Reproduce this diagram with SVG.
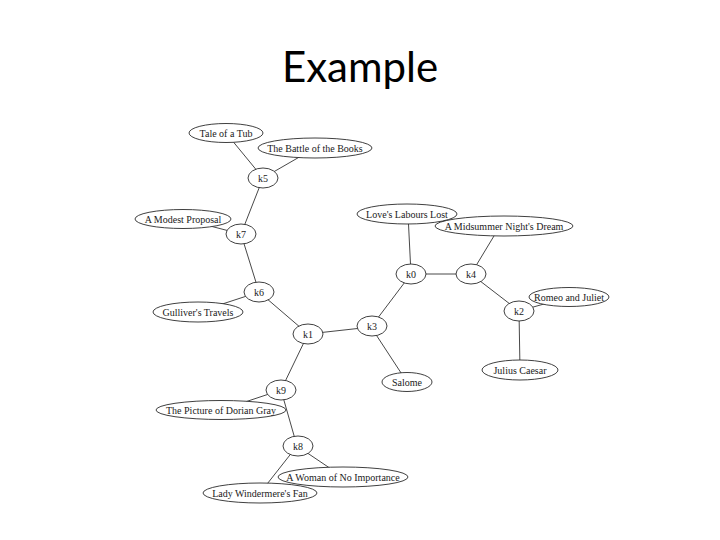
<svg xmlns="http://www.w3.org/2000/svg" width="720" height="540" viewBox="0 0 720 540">
<style>
.e{fill:#fff;stroke:#2a2a2a;stroke-width:0.9}
.f{fill:#fff;stroke:none}
.o{fill:none;stroke:#2a2a2a;stroke-width:0.9}
.t{font-family:"Liberation Serif","Times New Roman",serif;font-size:10px;fill:#1a1a1a;text-anchor:middle}
.c line{stroke:#333;stroke-width:0.9}
.title{font-family:"Lato","Liberation Sans",sans-serif;font-size:42px;fill:#000;text-anchor:middle}
</style>
<rect width="720" height="540" fill="#fff"/>
<text class="title" x="360" y="82">Example</text>
<g class="c" id="connectors">
<line x1="226" y1="133" x2="263" y2="178"/>
<line x1="315" y1="148" x2="263" y2="178"/>
<line x1="263" y1="178" x2="241" y2="234"/>
<line x1="183" y1="219" x2="241" y2="234"/>
<line x1="241" y1="234" x2="259" y2="292"/>
<line x1="259" y1="292" x2="198" y2="312"/>
<line x1="259" y1="292" x2="308" y2="334"/>
<line x1="308" y1="334" x2="371" y2="327"/>
<line x1="308" y1="334" x2="281" y2="390"/>
<line x1="371" y1="327" x2="411" y2="274"/>
<line x1="371" y1="327" x2="407" y2="382"/>
<line x1="411" y1="274" x2="408" y2="214"/>
<line x1="411" y1="274" x2="471" y2="274"/>
<line x1="471" y1="274" x2="500" y2="226"/>
<line x1="471" y1="274" x2="519" y2="311"/>
<line x1="519" y1="311" x2="569" y2="297"/>
<line x1="519" y1="311" x2="520" y2="370"/>
<line x1="281" y1="390" x2="221" y2="410"/>
<line x1="281" y1="390" x2="297" y2="446"/>
<line x1="297" y1="446" x2="343" y2="477"/>
<line x1="297" y1="446" x2="260" y2="493"/>
</g>
<g id="n-tale"><ellipse class="e" cx="226" cy="133" rx="37" ry="9.5"/><text class="t" x="226" y="136.5">Tale of a Tub</text></g>
<g id="n-battle"><ellipse class="e" cx="315" cy="148" rx="57" ry="10"/><text class="t" x="315" y="151.5">The Battle of the Books</text></g>
<g id="n-k5"><ellipse class="e" cx="263" cy="178" rx="15" ry="10"/><text class="t" x="263" y="181.5">k5</text></g>
<g id="n-modest"><ellipse class="e" cx="183" cy="219" rx="48" ry="9.5"/><text class="t" x="183" y="222.5">A Modest Proposal</text></g>
<g id="n-k7"><ellipse class="e" cx="241" cy="234" rx="15" ry="10"/><text class="t" x="241" y="237.5">k7</text></g>
<g id="n-k6"><ellipse class="e" cx="259" cy="292" rx="15" ry="10"/><text class="t" x="259" y="295.5">k6</text></g>
<g id="n-gulliver"><ellipse class="e" cx="198" cy="312" rx="45" ry="10"/><text class="t" x="198" y="315.5">Gulliver's Travels</text></g>
<g id="n-k1"><ellipse class="e" cx="308" cy="334" rx="15" ry="10"/><text class="t" x="308" y="337.5">k1</text></g>
<g id="n-k3"><ellipse class="e" cx="372" cy="326" rx="15" ry="10"/><text class="t" x="372" y="329.5">k3</text></g>
<g id="n-salome"><ellipse class="e" cx="407" cy="382" rx="25" ry="9.5"/><text class="t" x="407" y="385.5">Salome</text></g>
<g id="n-loves"><ellipse class="f" cx="407" cy="214" rx="50" ry="10"/></g>
<g id="n-midsummer"><ellipse class="e" cx="504" cy="226" rx="69" ry="10"/><text class="t" x="504" y="229.5">A Midsummer Night's Dream</text></g>
<g id="n-loves-label"><ellipse class="o" cx="407" cy="214" rx="50" ry="10"/><text class="t" x="407" y="217.5">Love's Labours Lost</text></g>
<g id="n-k0"><ellipse class="e" cx="411" cy="274" rx="15" ry="10"/><text class="t" x="411" y="277.5">k0</text></g>
<g id="n-k4"><ellipse class="e" cx="471" cy="274" rx="15" ry="10"/><text class="t" x="471" y="277.5">k4</text></g>
<g id="n-romeo"><ellipse class="e" cx="569" cy="297" rx="40" ry="9.5"/><text class="t" x="569" y="300.5">Romeo and Juliet</text></g>
<g id="n-k2"><ellipse class="e" cx="519" cy="311" rx="15" ry="10"/><text class="t" x="519" y="314.5">k2</text></g>
<g id="n-julius"><ellipse class="e" cx="520" cy="370" rx="38" ry="10"/><text class="t" x="520" y="373.5">Julius Caesar</text></g>
<g id="n-k9"><ellipse class="e" cx="281" cy="390" rx="15" ry="10"/><text class="t" x="281" y="393.5">k9</text></g>
<g id="n-dorian"><ellipse class="e" cx="221" cy="410" rx="65" ry="9.5"/><text class="t" x="221" y="413.5">The Picture of Dorian Gray</text></g>
<g id="n-k8"><ellipse class="e" cx="298" cy="446" rx="15" ry="10"/><text class="t" x="298" y="449.5">k8</text></g>
<g id="n-lady"><ellipse class="e" cx="260" cy="493" rx="57" ry="10"/><text class="t" x="260" y="496.5">Lady Windermere's Fan</text></g>
<g id="n-woman"><ellipse class="e" cx="343" cy="477" rx="65" ry="10"/><text class="t" x="343" y="480.5">A Woman of No Importance</text></g>
</svg>
